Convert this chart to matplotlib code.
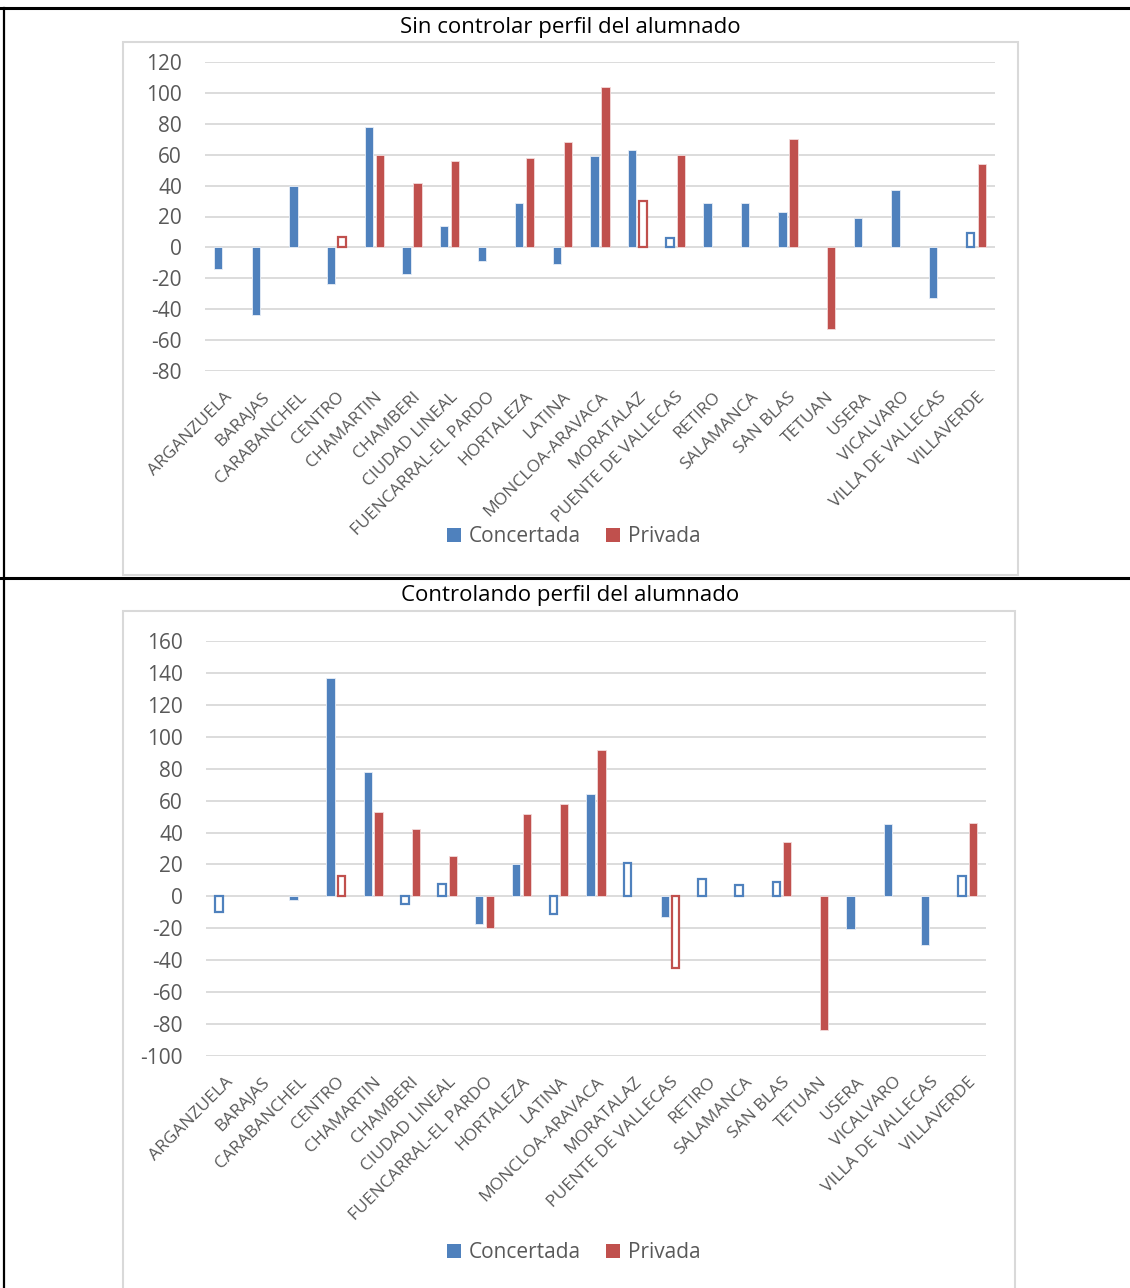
import numpy as np
import matplotlib
matplotlib.use("Agg")
import matplotlib.pyplot as plt
from matplotlib.patches import Rectangle, Patch
from matplotlib.lines import Line2D

districts = ["ARGANZUELA", "BARAJAS", "CARABANCHEL", "CENTRO", "CHAMARTIN",
             "CHAMBERI", "CIUDAD LINEAL", "FUENCARRAL-EL PARDO", "HORTALEZA",
             "LATINA", "MONCLOA-ARAVACA", "MORATALAZ", "PUENTE DE VALLECAS",
             "RETIRO", "SALAMANCA", "SAN BLAS", "TETUAN", "USERA", "VICALVARO",
             "VILLA DE VALLECAS", "VILLAVERDE"]

nan = np.nan

# Sin controlar perfil del alumnado
raw_concertada = [-14, -44, 40, -24, 78, -17, 14, -9, 29, -11, 59, 63, 6,
                  29, 29, 23, nan, 19, 37, -33, 9]
raw_privada = [nan, nan, nan, 7, 60, 42, 56, nan, 58, 68, 104, 30, 60,
               nan, nan, 70, -53, nan, nan, nan, 54]
raw_conc_hollow = [False] * 21
raw_priv_hollow = [False] * 21
for i in (12, 20):
    raw_conc_hollow[i] = True
for i in (3, 11):
    raw_priv_hollow[i] = True

# Controlando perfil del alumnado
adj_concertada = [-10, nan, -2, 137, 78, -5, 8, -17, 20, -11, 64, 21, -13,
                  11, 7, 9, nan, -20.5, 45.5, -30.5, 13]
adj_privada = [nan, nan, nan, 13, 53, 42, 25.5, -19.5, 51.5, 58, 91.5, nan,
               -45, nan, nan, 34, -83.5, nan, nan, nan, 46]
adj_conc_hollow = [False] * 21
adj_priv_hollow = [False] * 21
for i in (0, 5, 6, 9, 11, 13, 14, 15, 20):
    adj_conc_hollow[i] = True
for i in (3, 12):
    adj_priv_hollow[i] = True

BLUE = "#4F81BD"
RED = "#C0504D"
GRID = "#D9D9D9"
TXT = "#595959"

W, H = 1130, 1288
fig = plt.figure(figsize=(W / 100, H / 100), dpi=100)


def fx(px):
    return px / W


def fy(py):
    return 1 - py / H


def draw_bars(ax, values, hollow, color, offset):
    x = np.arange(len(values)) + offset
    vals = np.array(values, dtype=float)
    solid = np.array([not h for h in hollow])
    hol = np.array(hollow)
    ax.bar(x[solid], vals[solid], width=0.22, color=color,
           edgecolor="#E8EEF7" if color == BLUE else "#F3DADA", linewidth=0.6,
           zorder=3)
    ax.bar(x[hol], vals[hol], width=0.2, facecolor="white",
           edgecolor=color, linewidth=1.6, zorder=3)


def make_chart(box, axrect, title, title_y, conc, priv, ch, ph,
               ylim, yticks, legend_y):
    # chart area frame
    x0, y0, x1, y1 = box
    fig.patches.append(Rectangle((fx(x0), fy(y1)), fx(x1 - x0), (y1 - y0) / H,
                                 transform=fig.transFigure, facecolor="none",
                                 edgecolor=GRID, linewidth=1.5, zorder=1))
    l, t, r, b = axrect
    ax = fig.add_axes([fx(l), fy(b), fx(r - l), (b - t) / H])
    ax.set_xlim(0, len(districts))
    ax.set_ylim(*ylim)
    ax.set_yticks(yticks)
    ax.set_yticklabels([str(v) for v in yticks], fontsize=15,
                       fontfamily="Open Sans", color=TXT)
    for v in yticks:
        ax.axhline(v, color=GRID, linewidth=1.3, zorder=1)
    for s in ax.spines.values():
        s.set_visible(False)
    ax.tick_params(axis="both", length=0)
    ax.tick_params(axis="y", pad=16.5)
    centers = np.arange(len(districts)) + 0.5
    ax.set_xticks(centers)
    ax.set_xticklabels(districts, rotation=45, ha="right", va="top",
                       rotation_mode="anchor", fontsize=12.5,
                       fontfamily="Open Sans", color=TXT)
    ax.tick_params(axis="x", pad=13)
    draw_bars(ax, conc, ch, BLUE, 0.5 - 0.146)
    draw_bars(ax, priv, ph, RED, 0.5 + 0.146)
    fig.text(fx(570), fy(title_y), title, ha="center", va="center",
             fontsize=16, color="black", family="Open Sans")
    handles = [Patch(facecolor=BLUE, edgecolor="none"),
               Patch(facecolor=RED, edgecolor="none")]
    fig.legend(handles, ["Concertada", "Privada"], loc="center",
               bbox_to_anchor=(fx(574), fy(legend_y)), ncol=2, frameon=False,
               prop={"family": "Open Sans", "size": 15},
               labelcolor=TXT, handlelength=0.65, handleheight=0.65,
               handletextpad=0.4, columnspacing=1.2)
    return ax


make_chart((123, 42, 1018, 575), (205, 62, 995, 371),
           "Sin controlar perfil del alumnado", 27,
           raw_concertada, raw_privada, raw_conc_hollow, raw_priv_hollow,
           (-80, 120), list(range(-80, 121, 20)), 537)

make_chart((123, 611, 1015, 1300), (206, 641, 986, 1056),
           "Controlando perfil del alumnado", 596,
           adj_concertada, adj_privada, adj_conc_hollow, adj_priv_hollow,
           (-100, 160), list(range(-100, 161, 20)), 1253)

# table borders
fig.add_artist(Line2D([0, 1], [fy(8), fy(8)], color="black", linewidth=2.2,
                      transform=fig.transFigure))
fig.add_artist(Line2D([0, 1], [fy(578), fy(578)], color="black",
                      linewidth=2.2, transform=fig.transFigure))
fig.add_artist(Line2D([fx(4), fx(4)], [fy(8), 0], color="black",
                      linewidth=1.6, transform=fig.transFigure))

fig.savefig("out.png", dpi=100, facecolor="white")
